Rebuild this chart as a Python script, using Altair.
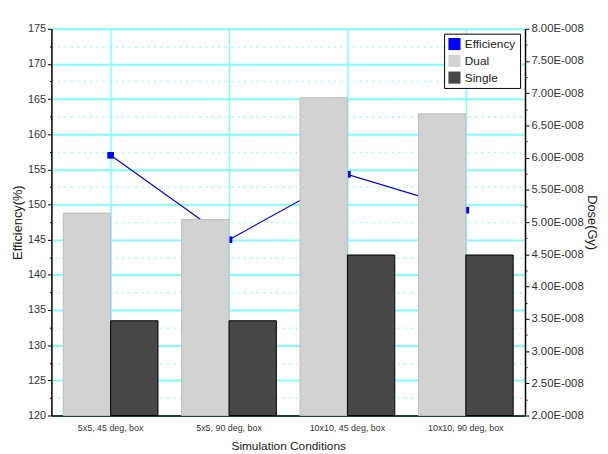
import altair as alt
import pandas as pd

conditions = ["5x5, 45 deg, box", "5x5, 90 deg, box", "10x10, 45 deg, box", "10x10, 90 deg, box"]
efficiency = [157.0, 145.0, 154.3, 149.2]          # %
dose_dual = [5.14, 5.04, 6.93, 6.68]               # x 1E-008 Gy
dose_single = [3.47, 3.47, 4.49, 4.49]             # x 1E-008 Gy
series = ["Dual", "Single"]
dose_floor = 2.0                                   # bottom of right axis (x 1E-008 Gy)

eff_df = pd.DataFrame({"cond": conditions, "eff": efficiency, "s": ["Efficiency"] * 4})
bar_df = pd.DataFrame({
    "cond": conditions * 2,
    "series": [series[0]] * 4 + [series[1]] * 4,
    "dose": dose_dual + dose_single,
})

FONT = "Liberation Sans"
CYAN = "#80ffff"

xenc = alt.X("cond:N", sort=conditions, title="Simulation Conditions",
             scale=alt.Scale(paddingInner=0, paddingOuter=0),
             axis=alt.Axis(labelAngle=0, labelFontSize=9, labelColor="#333333", labelFont=FONT,
                           ticks=False, labelPadding=8, grid=True, gridColor=CYAN, gridWidth=1.5,
                           domainColor="black", domainWidth=1.5, titleFont=FONT, titleFontSize=12,
                           titleFontWeight="normal", titlePadding=8, titleColor="#222222"))

left_vals = [120 + 2.5 * i for i in range(23)]
line = alt.Chart(eff_df).mark_line(color="#0000ff", strokeWidth=1.2, point=alt.OverlayMarkDef(
    shape="square", size=45, filled=True, color="#0000ff")).encode(
    x=xenc,
    y=alt.Y("eff:Q", title="Efficiency(%)",
            scale=alt.Scale(domain=[120, 175], nice=False, zero=False),
            axis=alt.Axis(values=left_vals, orient="left",
                          labelExpr="datum.value % 5 === 0 ? datum.label : ''",
                          grid=True, gridColor=CYAN,
                          gridDash={"condition": {"test": "datum.value % 5 !== 0", "value": [1.5, 5]}, "value": []},
                          gridWidth={"condition": {"test": "datum.value % 5 !== 0", "value": 1.5}, "value": 2},
                          tickSize={"condition": {"test": "datum.value % 5 !== 0", "value": 2}, "value": 4},
                          tickColor="black", domainColor="black", domainWidth=1.5,
                          labelFont=FONT, labelFontSize=11, labelColor="#333333", labelPadding=2,
                          titleFont=FONT, titleFontSize=13, titleFontWeight="normal", titleColor="#222222",
                          titlePadding=3)),
)

right_vals = [2 + 0.25 * i for i in range(25)]
bars = alt.Chart(bar_df).mark_bar(strokeWidth=1).encode(
    x=xenc,
    xOffset=alt.XOffset("series:N", sort=series, scale=alt.Scale(paddingOuter=0.25, paddingInner=0)),
    y=alt.Y("dose:Q", title="Dose(Gy)",
            scale=alt.Scale(domain=[2, 8], nice=False, zero=False),
            axis=alt.Axis(values=right_vals, orient="right", grid=False,
                          labelExpr="(datum.value * 100) % 50 === 0 ? format(datum.value, '.2f') + 'E-008' : ''",
                          tickSize={"condition": {"test": "(datum.value * 100) % 50 !== 0", "value": 2}, "value": 4},
                          tickColor="black", domainColor="black", domainWidth=1.5,
                          labelFont=FONT, labelFontSize=11.5, labelColor="#333333", labelPadding=2,
                          titleFont=FONT, titleFontSize=13, titleFontWeight="normal", titleColor="#222222",
                          titlePadding=1)),
    y2=alt.Y2Datum(dose_floor),
    color=alt.Color("series:N",
                    scale=alt.Scale(domain=["Efficiency", "Dual", "Single"],
                                    range=["#0000ff", "#d2d2d2", "#474747"]),
                    legend=alt.Legend(title=None, orient="top-right", offset=5,
                                      symbolType="square", symbolSize=150, symbolStrokeWidth=0,
                                      labelFont=FONT, labelFontSize=12, labelColor="#222222",
                                      strokeColor="black", fillColor="white", padding=4,
                                      rowPadding=4)),
    stroke=alt.Stroke("series:N", scale=alt.Scale(domain=["Dual", "Single"], range=["#bdbdbd", "#000000"]),
                      legend=None),
)

chart = alt.layer(line, bars).resolve_scale(y="independent", stroke="independent").properties(
    width=480, height=392,
    padding={"left": 3, "top": 12, "right": 2, "bottom": 2},
).configure_view(stroke="black", strokeWidth=1.5).configure(background="white")

chart.save("out.html", embed_options={"renderer": "svg", "actions": False})
